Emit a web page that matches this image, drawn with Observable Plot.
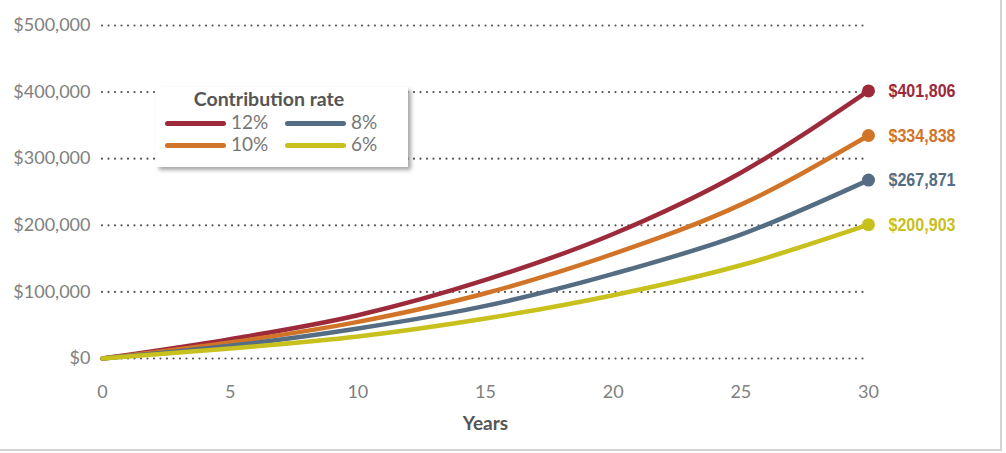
<!DOCTYPE html>
<html>
<head>
<meta charset="utf-8">
<script src="https://cdn.jsdelivr.net/npm/d3@7"></script>
<script src="https://cdn.jsdelivr.net/npm/@observablehq/plot@0.6"></script>
<style>
  body { margin: 0; background: #fff; }
  #wrap { position: relative; width: 1000px; height: 449px; border-right: 2px solid #d4d4d4; border-bottom: 2px solid #d4d4d4; }
  #legend { position: absolute; left: 156px; top: 87px; width: 252px; height: 80px; background: #fff;
            box-shadow: 3px 3px 4px rgba(0,0,0,0.35); font-family: Lato, "Open Sans", sans-serif; }
  #legend .title { position: absolute; left: 0; width: 226px; top: 0px; text-align: center; font-weight: bold; font-size: 19.5px; color: #555; }
  #legend .item { position: absolute; font-size: 19px; color: #777; font-weight: normal; line-height: 20px; }
  #legend .sw { display: inline-block; width: 61px; height: 5px; border-radius: 3px; vertical-align: middle; margin-right: 5px; position: relative; top: -1px; }
</style>
</head>
<body>
<div id="wrap">
  <div id="chart"></div>
  <div id="legend"></div>
</div>
<script>
const years = [0, 5, 10, 15, 20, 25, 30];
const rateLabels = ["12%", "10%", "8%", "6%"];
const colors = ["#9c2a3b", "#d27427", "#546d82", "#c8c01c"];
const values12 = [0, 29000, 65000, 118000, 187000, 279000, 401806];
const values10 = [0, 24000, 55000, 98000, 157000, 231000, 334838];
const values8  = [0, 19000, 45000, 79000, 127000, 186000, 267871];
const values6  = [0, 15000, 33000, 60000, 95000, 140000, 200903];
const yTicks = [0, 100000, 200000, 300000, 400000, 500000];
const xTicks = [0, 5, 10, 15, 20, 25, 30];
const legendTitle = "Contribution rate";
const xLabel = "Years";

const series = [values12, values10, values8, values6];
const data = series.flatMap((vals, i) => years.map((yr, j) => ({year: yr, value: vals[j], rate: rateLabels[i]})));
const ends = series.map((vals, i) => ({year: years[years.length - 1], value: vals[vals.length - 1], rate: rateLabels[i]}));
const money = d => "$" + d3.format(",")(d);

const chart = Plot.plot({
  width: 1000,
  height: 449,
  marginLeft: 102,
  marginRight: 132,
  marginTop: 25,
  marginBottom: 91,
  x: {domain: [0, 30]},
  y: {domain: [0, 500000]},
  color: {domain: rateLabels, range: colors},
  style: {fontFamily: "Lato, 'Open Sans', sans-serif", background: "transparent"},
  marks: [
    Plot.gridY(yTicks, {stroke: "#555", strokeOpacity: 1, strokeWidth: 2.2, strokeDasharray: "0,6.5", strokeLinecap: "round"}),
    Plot.axisY(yTicks, {tickSize: 0, tickPadding: 12, tickFormat: money, fontSize: 18, fill: "#808080", label: null}),
    Plot.axisX(xTicks, {tickSize: 0, tickPadding: 27, fontSize: 18, fill: "#808080", label: null}),
    Plot.line(data, {x: "year", y: "value", z: "rate", stroke: "rate", strokeWidth: 4.5, curve: "monotone-x"}),
    Plot.dot(ends, {x: "year", y: "value", fill: "rate", r: 6.5}),
    Plot.text(ends, {x: "year", y: "value", text: d => money(d.value), fill: "rate", dx: 20, textAnchor: "start",
                     fontSize: 19, fontWeight: "bold", fontFamily: "'Liberation Sans', Arial, sans-serif", className: "endlabels"}),
    Plot.text([xLabel], {text: d => d, frameAnchor: "bottom", dy: 71, fontSize: 19, fontWeight: "bold", fill: "#555"})
  ]
});
document.getElementById("chart").appendChild(chart);
chart.querySelectorAll(".endlabels text").forEach(el => {
  el.setAttribute("textLength", "67");
  el.setAttribute("lengthAdjust", "spacingAndGlyphs");
});

// legend
const legend = document.getElementById("legend");
const t = document.createElement("div");
t.className = "title";
t.textContent = legendTitle;
legend.appendChild(t);
const pos = [[9, 25], [9, 47], [129, 25], [129, 47]];
rateLabels.forEach((r, i) => {
  const it = document.createElement("div");
  it.className = "item";
  it.style.left = pos[i][0] + "px";
  it.style.top = pos[i][1] + "px";
  const sw = document.createElement("span");
  sw.className = "sw";
  sw.style.background = colors[i];
  it.appendChild(sw);
  it.appendChild(document.createTextNode(r));
  legend.appendChild(it);
});
</script>
</body>
</html>
